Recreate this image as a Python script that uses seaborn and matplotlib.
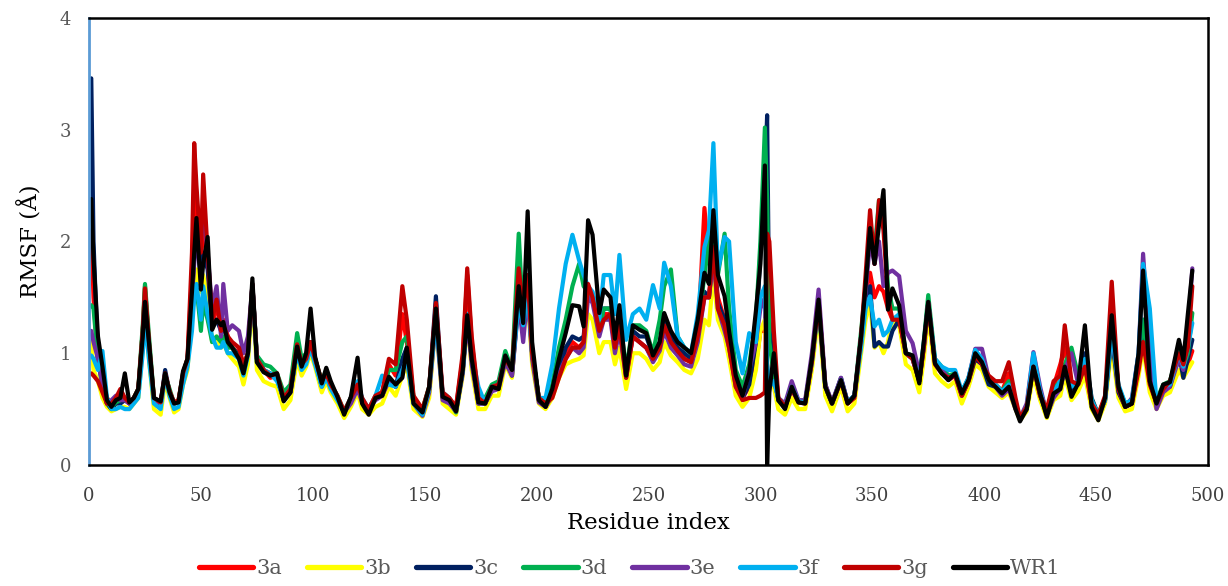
import numpy as np
import pandas as pd
import matplotlib
matplotlib.use('Agg')
import matplotlib.pyplot as plt
import seaborn as sns

#------------------------------------------------------------------------------
#                           DATA
#------------------------------------------------------------------------------

residue = [1, 2, 4, 6, 8, 10, 12, 14, 16, 18,
           20, 22, 24, 25, 27, 29, 32, 34, 36, 38,
           40, 42, 44, 46, 47, 48, 50, 51, 53, 55,
           57, 59, 60, 62, 64, 67, 69, 71, 73, 75, 78,
           81, 84, 87, 90, 93, 95, 97, 99, 101, 104,
           106, 108, 111, 114, 117, 120, 122, 125, 128, 131,
           134, 137, 140, 142, 145, 149, 152, 155, 158, 161,
           164, 167, 169, 171, 174, 177, 180, 183, 186, 189,
           192, 194, 196, 198, 201, 204, 207, 210, 213, 216,
           219, 221, 223, 225, 228, 230, 233, 235, 237, 240,
           243, 246, 249, 252, 255, 257, 260, 263, 266, 269,
           272, 275, 277, 279, 281, 284, 286, 289, 292, 295,
           298, 300, 302, 303, 304, 306, 308, 311, 314, 317,
           320, 323, 326, 329, 332, 336, 339, 342, 345, 347,
           349, 351, 353, 355, 357, 359, 362, 365, 368, 371,
           373, 375, 378, 381, 384, 387, 390, 393, 396, 399,
           402, 405, 408, 411, 414, 416, 419, 422, 425, 428,
           431, 434, 436, 439, 442, 445, 448, 451, 454, 457,
           460, 463, 466, 469, 471, 474, 477, 480, 483, 487,
           489, 491, 493]

rmsf_3a = [2.1, 1.5, 0.9, 0.75, 0.6, 0.55, 0.56, 0.62, 0.6, 0.55,
           0.6, 0.66, 1.2, 1.6, 1.0, 0.6, 0.56, 0.78, 0.65, 0.55,
           0.58, 0.8, 0.95, 1.7, 2.3, 2.4, 1.8, 2.2, 1.8, 1.25,
           1.4, 1.3, 1.3, 1.15, 1.05, 1.0, 0.85, 0.98, 1.6, 0.95, 0.85,
           0.78, 0.8, 0.6, 0.68, 1.05, 0.9, 0.95, 1.1, 0.95, 0.72,
           0.8, 0.72, 0.6, 0.47, 0.58, 0.7, 0.58, 0.5, 0.62, 0.65,
           0.9, 0.8, 1.35, 1.1, 0.6, 0.5, 0.68, 1.4, 0.62, 0.58,
           0.52, 0.95, 1.7, 1.1, 0.6, 0.55, 0.68, 0.7, 0.95, 0.85,
           1.78, 1.3, 1.65, 1.0, 0.6, 0.55, 0.62, 0.8, 1.0, 1.1,
           1.05, 1.1, 1.6, 1.5, 1.2, 1.35, 1.35, 1.05, 1.25, 0.8,
           1.15, 1.1, 1.05, 0.95, 1.05, 1.25, 1.1, 1.05, 0.95, 0.92,
           1.1, 2.3, 1.8, 1.9, 1.5, 1.3, 1.1, 0.75, 0.6, 0.7,
           0.9, 1.2, 1.2, 1.9, 1.3, 1.0, 0.6, 0.52, 0.68, 0.56,
           0.56, 0.9, 1.42, 0.7, 0.56, 0.75, 0.55, 0.6, 1.1, 1.55,
           1.72, 1.5, 1.6, 1.55, 1.4, 1.3, 1.3, 1.0, 0.95, 0.75,
           1.05, 1.45, 0.92, 0.83, 0.76, 0.8, 0.62, 0.75, 0.95, 0.9,
           0.78, 0.72, 0.66, 0.82, 0.55, 0.42, 0.52, 0.9, 0.62, 0.48,
           0.7, 0.9, 1.05, 0.7, 0.72, 0.85, 0.55, 0.45, 0.6, 1.3,
           0.68, 0.52, 0.55, 0.85, 1.1, 0.75, 0.55, 0.68, 0.72, 0.95,
           0.85, 0.9, 1.02]

rmsf_3b = [1.1, 0.85, 0.75, 0.6, 0.52, 0.48, 0.5, 0.52, 0.52, 0.5,
           0.55, 0.6, 1.05, 1.35, 0.9, 0.5, 0.45, 0.75, 0.6, 0.47,
           0.5, 0.72, 0.85, 1.4, 1.6, 1.75, 1.55, 1.7, 1.5, 1.1,
           1.15, 1.05, 1.1, 1.0, 0.95, 0.88, 0.72, 0.9, 1.5, 0.85, 0.75,
           0.72, 0.7, 0.5, 0.58, 0.95, 0.8, 0.88, 1.0, 0.88, 0.65,
           0.75, 0.65, 0.55, 0.42, 0.52, 0.65, 0.5, 0.45, 0.52, 0.55,
           0.7, 0.62, 0.8, 0.9, 0.5, 0.43, 0.6, 1.3, 0.55, 0.5,
           0.45, 0.8, 1.3, 0.85, 0.5, 0.5, 0.62, 0.62, 0.9, 0.78,
           1.55, 1.2, 1.5, 0.9, 0.55, 0.5, 0.6, 0.78, 0.9, 0.93,
           0.95, 0.98, 1.35, 1.3, 1.0, 1.1, 1.1, 0.9, 1.05, 0.68,
           1.0, 1.0, 0.95, 0.85, 0.92, 1.1, 0.98, 0.92, 0.85, 0.82,
           0.95, 1.3, 1.25, 1.7, 1.3, 1.15, 0.95, 0.62, 0.52, 0.6,
           0.85, 1.2, 1.3, 0.9, 0.75, 0.7, 0.5, 0.45, 0.6, 0.5,
           0.5, 0.85, 1.35, 0.62, 0.48, 0.7, 0.48, 0.55, 1.0, 1.3,
           1.45, 1.05, 1.1, 1.0, 1.1, 1.3, 1.25, 0.9, 0.85, 0.65,
           0.95, 1.35, 0.82, 0.75, 0.7, 0.75, 0.55, 0.7, 0.9, 0.85,
           0.7, 0.65, 0.6, 0.65, 0.5, 0.4, 0.48, 0.8, 0.58, 0.42,
           0.58, 0.62, 0.8, 0.58, 0.66, 0.8, 0.5, 0.4, 0.55, 1.05,
           0.6, 0.48, 0.5, 0.8, 1.05, 0.65, 0.5, 0.62, 0.65, 0.85,
           0.78, 0.85, 0.92]

rmsf_3c = [3.46, 2.0, 0.95, 0.8, 0.55, 0.5, 0.55, 0.55, 0.58, 0.55,
           0.58, 0.65, 1.2, 1.5, 1.0, 0.58, 0.55, 0.85, 0.65, 0.55,
           0.56, 0.8, 0.92, 1.5, 1.85, 2.0, 1.7, 1.9, 1.75, 1.25,
           1.3, 1.2, 1.25, 1.1, 1.05, 0.98, 0.85, 1.0, 1.62, 0.97, 0.85,
           0.82, 0.78, 0.58, 0.65, 1.05, 0.88, 0.95, 1.1, 0.95, 0.72,
           0.82, 0.7, 0.6, 0.47, 0.58, 0.7, 0.58, 0.5, 0.6, 0.62,
           0.78, 0.7, 0.95, 1.05, 0.58, 0.48, 0.68, 1.51, 0.6, 0.57,
           0.5, 0.85, 1.35, 0.95, 0.55, 0.55, 0.68, 0.7, 0.97, 0.8,
           1.5, 1.25, 1.6, 1.0, 0.58, 0.52, 0.65, 0.85, 1.05, 1.15,
           1.12, 1.15, 1.55, 1.5, 1.25, 1.4, 1.4, 1.1, 1.3, 0.8,
           1.2, 1.15, 1.15, 0.98, 1.1, 1.3, 1.15, 1.05, 1.0, 0.95,
           1.15, 1.55, 1.5, 1.9, 1.45, 1.3, 1.1, 0.75, 0.6, 0.72,
           1.1, 1.9, 2.5, 3.13, 1.2, 0.9, 0.58, 0.52, 0.7, 0.57,
           0.56, 0.95, 1.45, 0.72, 0.55, 0.78, 0.56, 0.62, 1.1, 1.5,
           1.6, 1.06, 1.1, 1.06, 1.06, 1.2, 1.3, 1.0, 0.95, 0.75,
           1.05, 1.45, 0.92, 0.83, 0.76, 0.82, 0.62, 0.75, 0.95, 0.9,
           0.72, 0.7, 0.65, 0.72, 0.52, 0.42, 0.5, 0.88, 0.62, 0.45,
           0.62, 0.7, 0.85, 0.68, 0.75, 1.0, 0.6, 0.45, 0.58, 1.15,
           0.65, 0.52, 0.55, 0.9, 1.3, 0.75, 0.55, 0.68, 0.7, 1.0,
           0.78, 0.95, 1.12]

rmsf_3d = [1.43, 1.4, 0.95, 0.7, 0.55, 0.52, 0.56, 0.58, 0.6, 0.56,
           0.6, 0.68, 1.25, 1.62, 1.1, 0.6, 0.55, 0.8, 0.68, 0.55,
           0.58, 0.82, 0.95, 1.35, 1.5, 1.6, 1.2, 1.45, 1.3, 1.1,
           1.15, 1.1, 1.15, 1.05, 1.05, 0.95, 0.88, 1.0, 1.6, 0.98, 0.9,
           0.88, 0.82, 0.65, 0.72, 1.18, 0.95, 1.0, 1.05, 0.95, 0.75,
           0.85, 0.72, 0.62, 0.48, 0.6, 0.7, 0.58, 0.5, 0.6, 0.65,
           0.85, 0.85, 1.1, 1.15, 0.6, 0.5, 0.7, 1.35, 0.62, 0.57,
           0.47, 0.85, 1.35, 0.95, 0.56, 0.6, 0.72, 0.75, 1.02, 0.85,
           2.07, 1.3, 1.6, 1.0, 0.6, 0.55, 0.72, 1.05, 1.3, 1.6,
           1.8, 1.6, 1.55, 1.5, 1.2, 1.4, 1.4, 1.1, 1.35, 0.85,
           1.25, 1.25, 1.2, 1.0, 1.3, 1.6, 1.75, 1.15, 1.05, 1.0,
           1.2, 1.7, 2.0, 2.1, 1.7, 2.07, 1.4, 0.85, 0.7, 0.9,
           1.3, 2.0, 3.02, 2.37, 1.1, 0.8, 0.58, 0.52, 0.68, 0.57,
           0.56, 0.92, 1.45, 0.7, 0.55, 0.76, 0.56, 0.62, 1.2, 1.6,
           2.1, 1.9, 2.37, 2.2, 1.6, 1.4, 1.4, 1.0, 0.98, 0.75,
           1.1, 1.52, 0.95, 0.88, 0.8, 0.82, 0.65, 0.78, 1.0, 0.92,
           0.78, 0.72, 0.66, 0.75, 0.55, 0.42, 0.52, 0.9, 0.65, 0.48,
           0.68, 0.75, 0.9, 1.05, 0.8, 0.9, 0.58, 0.45, 0.6, 1.2,
           0.7, 0.55, 0.58, 0.95, 1.3, 0.78, 0.58, 0.72, 0.75, 1.05,
           0.88, 1.0, 1.36]

rmsf_3e = [1.2, 1.1, 0.95, 0.7, 0.55, 0.58, 0.62, 0.58, 0.58, 0.55,
           0.6, 0.65, 1.15, 1.5, 1.0, 0.58, 0.55, 0.8, 0.65, 0.55,
           0.56, 0.8, 0.92, 1.5, 1.8, 2.1, 2.0, 2.3, 1.9, 1.4,
           1.6, 1.15, 1.62, 1.2, 1.25, 1.2, 1.0, 1.15, 1.6, 0.95, 0.85,
           0.8, 0.78, 0.58, 0.65, 1.02, 0.88, 0.92, 1.05, 0.92, 0.7,
           0.8, 0.7, 0.6, 0.47, 0.55, 0.68, 0.56, 0.5, 0.58, 0.62,
           0.75, 0.7, 0.85, 0.95, 0.55, 0.44, 0.65, 1.3, 0.58, 0.55,
           0.48, 0.82, 1.3, 0.9, 0.55, 0.55, 0.66, 0.68, 0.92, 0.8,
           1.45, 1.1, 1.55, 0.95, 0.56, 0.52, 0.62, 0.82, 0.95, 1.05,
           1.0, 1.05, 1.5, 1.45, 1.15, 1.3, 1.3, 1.0, 1.2, 0.78,
           1.15, 1.1, 1.05, 0.92, 1.02, 1.2, 1.05, 0.98, 0.9, 0.88,
           1.1, 1.5, 1.5, 1.85, 1.4, 1.2, 1.05, 0.7, 0.6, 0.85,
           1.1, 1.4, 1.5, 0.9, 0.7, 0.75, 0.6, 0.55, 0.75, 0.58,
           0.58, 1.0, 1.57, 0.72, 0.56, 0.78, 0.56, 0.62, 1.15, 1.55,
           2.0, 1.8, 2.0, 1.6, 1.72, 1.74, 1.69, 1.2, 1.09, 0.82,
           1.05, 1.45, 0.92, 0.85, 0.78, 0.8, 0.62, 0.78, 1.04, 1.04,
           0.78, 0.7, 0.62, 0.68, 0.5, 0.42, 0.55, 1.01, 0.7, 0.45,
           0.6, 0.68, 0.85, 1.0, 0.72, 0.9, 0.55, 0.43, 0.58, 1.2,
           0.68, 0.52, 0.6, 1.0, 1.89, 1.0, 0.5, 0.65, 0.7, 0.95,
           0.85, 1.2, 1.76]

rmsf_3f = [0.98, 0.95, 0.85, 1.02, 0.6, 0.5, 0.5, 0.52, 0.5, 0.5,
           0.55, 0.6, 1.0, 1.3, 0.9, 0.55, 0.5, 0.8, 0.62, 0.5,
           0.52, 0.72, 0.88, 1.2, 1.5, 1.62, 1.3, 1.6, 1.35, 1.15,
           1.05, 1.05, 1.1, 1.0, 1.0, 0.95, 0.8, 0.98, 1.6, 0.92, 0.85,
           0.82, 0.75, 0.6, 0.68, 1.0, 0.85, 0.9, 1.05, 0.9, 0.7,
           0.78, 0.68, 0.58, 0.47, 0.6, 0.75, 0.6, 0.5, 0.62, 0.8,
           0.72, 0.7, 0.85, 0.95, 0.55, 0.45, 0.68, 1.3, 0.65, 0.6,
           0.5, 0.85, 1.35, 1.0, 0.7, 0.55, 0.7, 0.72, 0.95, 0.85,
           1.45, 1.25, 1.55, 1.0, 0.6, 0.6, 0.9, 1.4, 1.8, 2.06,
           1.83, 1.7, 1.6, 1.55, 1.3, 1.7, 1.7, 1.35, 1.88, 1.12,
           1.35, 1.4, 1.3, 1.61, 1.4, 1.81, 1.6, 1.15, 1.05, 1.0,
           1.35, 1.95, 2.1, 2.88, 1.74, 2.04, 2.0, 1.1, 0.82, 1.18,
           1.1, 1.5, 1.6, 0.9, 0.7, 0.75, 0.6, 0.52, 0.7, 0.57,
           0.56, 0.92, 1.42, 0.7, 0.55, 0.76, 0.56, 0.62, 1.05, 1.4,
           1.51, 1.24, 1.3, 1.16, 1.2, 1.3, 1.35, 1.0, 0.95, 0.78,
           1.08, 1.45, 0.95, 0.88, 0.85, 0.85, 0.66, 0.78, 1.03, 0.95,
           0.76, 0.72, 0.66, 0.72, 0.52, 0.42, 0.52, 1.0, 0.66, 0.46,
           0.65, 0.75, 0.85, 0.7, 0.75, 0.95, 0.58, 0.45, 0.58, 1.2,
           0.72, 0.55, 0.58, 1.0, 1.8, 1.4, 0.55, 0.7, 0.72, 1.0,
           0.88, 1.05, 1.27]

rmsf_3g = [0.82, 0.8, 0.75, 0.65, 0.55, 0.55, 0.6, 0.68, 0.6, 0.56,
           0.6, 0.68, 1.2, 1.58, 1.05, 0.6, 0.56, 0.82, 0.66, 0.56,
           0.58, 0.82, 0.95, 1.9, 2.88, 2.5, 1.9, 2.6, 1.9, 1.3,
           1.48, 1.2, 1.25, 1.15, 1.1, 1.05, 0.9, 1.0, 1.62, 0.95, 0.85,
           0.8, 0.82, 0.6, 0.68, 1.08, 0.9, 0.95, 1.1, 0.95, 0.75,
           0.82, 0.72, 0.62, 0.48, 0.6, 0.72, 0.6, 0.5, 0.62, 0.65,
           0.95, 0.9, 1.6, 1.3, 0.62, 0.5, 0.7, 1.45, 0.65, 0.6,
           0.52, 1.0, 1.76, 1.15, 0.6, 0.55, 0.7, 0.72, 0.95, 0.85,
           1.76, 1.4, 1.7, 1.0, 0.6, 0.55, 0.6, 0.78, 0.95, 1.05,
           1.05, 1.1, 1.62, 1.5, 1.2, 1.3, 1.35, 1.05, 1.25, 0.78,
           1.15, 1.1, 1.05, 0.95, 1.05, 1.25, 1.1, 1.02, 0.95, 0.92,
           1.15, 1.5, 1.5, 1.95, 1.4, 1.25, 1.05, 0.7, 0.58, 0.6,
           0.6, 0.62, 0.65, 2.07, 2.0, 1.2, 0.6, 0.52, 0.68, 0.56,
           0.55, 0.92, 1.45, 0.7, 0.55, 0.75, 0.55, 0.6, 1.15, 1.7,
           2.28, 1.8, 2.37, 2.1, 1.5, 1.3, 1.3, 1.0, 0.95, 0.75,
           1.05, 1.45, 0.9, 0.82, 0.78, 0.8, 0.62, 0.75, 0.98, 0.9,
           0.8, 0.75, 0.75, 0.92, 0.6, 0.42, 0.52, 0.88, 0.62, 0.5,
           0.75, 0.8, 1.25, 0.75, 0.72, 0.88, 0.55, 0.45, 0.62, 1.64,
           0.68, 0.52, 0.55, 0.85, 1.1, 0.72, 0.55, 0.68, 0.75, 1.0,
           0.9, 1.05, 1.6]

rmsf_wr1 = [2.38, 1.85, 1.15, 0.88, 0.58, 0.52, 0.58, 0.6, 0.82, 0.56,
            0.6, 0.68, 1.15, 1.46, 1.05, 0.6, 0.57, 0.82, 0.65, 0.55,
            0.56, 0.84, 0.95, 1.55, 1.9, 2.21, 1.57, 1.8, 2.04, 1.21,
            1.3, 1.25, 1.28, 1.1, 1.05, 0.95, 0.82, 1.0, 1.67, 0.92, 0.83,
            0.8, 0.82, 0.57, 0.65, 1.06, 0.88, 1.0, 1.4, 0.97, 0.73,
            0.87, 0.75, 0.61, 0.45, 0.61, 0.96, 0.55, 0.45, 0.6, 0.62,
            0.79, 0.72, 0.78, 1.05, 0.55, 0.47, 0.7, 1.4, 0.61, 0.58,
            0.48, 0.85, 1.34, 0.95, 0.56, 0.55, 0.7, 0.68, 0.98, 0.85,
            1.6, 1.27, 2.27, 1.1, 0.58, 0.52, 0.68, 0.95, 1.18, 1.43,
            1.42, 1.24, 2.19, 2.06, 1.36, 1.57, 1.5, 1.13, 1.43, 0.8,
            1.25, 1.21, 1.18, 0.98, 1.1, 1.36, 1.2, 1.1, 1.05, 1.0,
            1.3, 1.72, 1.62, 2.28, 1.7, 1.51, 1.2, 0.8, 0.62, 0.82,
            1.38, 1.8, 2.68, 0.0, 0.65, 1.0, 0.58, 0.5, 0.7, 0.56,
            0.55, 0.95, 1.48, 0.7, 0.55, 0.76, 0.55, 0.62, 1.15, 1.6,
            2.12, 1.8, 2.15, 2.46, 1.39, 1.58, 1.43, 1.0, 0.98, 0.73,
            1.1, 1.46, 0.91, 0.82, 0.76, 0.82, 0.64, 0.76, 1.0, 0.92,
            0.76, 0.7, 0.64, 0.7, 0.5, 0.39, 0.5, 0.88, 0.64, 0.43,
            0.64, 0.68, 0.88, 0.61, 0.73, 1.25, 0.52, 0.4, 0.6, 1.34,
            0.7, 0.52, 0.55, 1.0, 1.74, 0.75, 0.55, 0.72, 0.74, 1.12,
            0.94, 1.35, 1.74]

series_names = ['3a', '3b', '3c', '3d', '3e', '3f', '3g', 'WR1']
series_colors = ['#FF0000', '#FFFF00', '#002060', '#00B050',
                 '#7030A0', '#00B0F0', '#C00000', '#000000']

#------------------------------------------------------------------------------
#                           LONG FORMAT FOR SEABORN
#------------------------------------------------------------------------------

df = pd.DataFrame({'Residue index': residue,
                   '3a': rmsf_3a, '3b': rmsf_3b, '3c': rmsf_3c, '3d': rmsf_3d,
                   '3e': rmsf_3e, '3f': rmsf_3f, '3g': rmsf_3g, 'WR1': rmsf_wr1})
df_long = df.melt(id_vars='Residue index', var_name='System', value_name='RMSF')

#------------------------------------------------------------------------------
#                           PLOT
#------------------------------------------------------------------------------

sns.set_style('white')
plt.rcParams['font.family'] = ['DejaVu Serif']

fig = plt.figure(figsize=(12.28, 5.86), dpi=100)
ax = fig.add_axes([0.0725, 0.2065, 0.9112, 0.7628])

sns.lineplot(data=df_long, x='Residue index', y='RMSF', hue='System',
             hue_order=series_names, palette=dict(zip(series_names, series_colors)),
             estimator=None, linewidth=3.0, ax=ax, legend=True)

ax.set_xlim(0, 500)
ax.set_ylim(0, 4)
ax.set_xticks(np.arange(0, 501, 50))
ax.set_yticks([0, 1, 2, 3, 4])

ax.set_xlabel('Residue index', fontsize=16.5, color='black', labelpad=5)
ax.set_ylabel('RMSF (Å)', fontsize=16.5, color='black', labelpad=12)

for side in ['top', 'right', 'bottom']:
    ax.spines[side].set_color('black')
    ax.spines[side].set_linewidth(1.8)
ax.spines['left'].set_color('#5B9BD5')
ax.spines['left'].set_linewidth(2.0)

ax.tick_params(axis='x', direction='out', length=5, width=1.5, color='black',
               labelsize=13, labelcolor='#404040', pad=11)
ax.tick_params(axis='y', direction='out', length=5, width=1.5, color='#5B9BD5',
               labelsize=13, labelcolor='#595959', pad=8)
ax.grid(False)

handles, labels = ax.get_legend_handles_labels()
ax.legend_.remove()
for h in handles:
    h.set_linewidth(3.8)
fig.legend(handles, labels, loc='center', bbox_to_anchor=(0.513, 0.03), ncol=8,
           frameon=False, fontsize=15, handlelength=2.6, handletextpad=0.15,
           columnspacing=1.2, labelcolor='#595959')

fig.savefig('out.png', dpi=100)
